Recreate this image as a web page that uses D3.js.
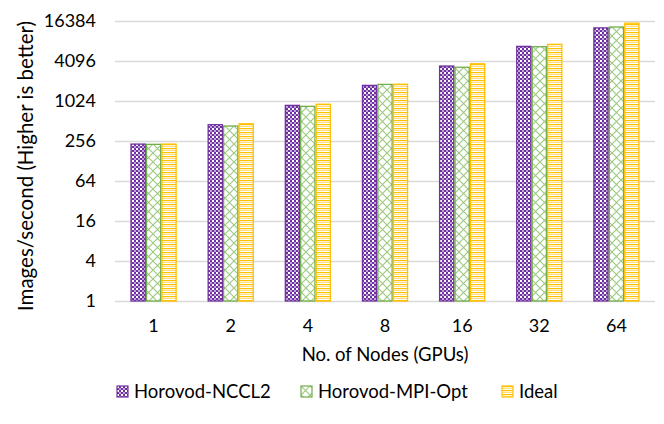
<!DOCTYPE html>
<html><head><meta charset="utf-8">
<script src="https://cdn.jsdelivr.net/npm/d3@7"></script>
<style>body{margin:0;background:#fff}svg{display:block;font-family:Lato,"Open Sans",sans-serif}</style>
</head><body><svg id="c" width="664" height="424"></svg>
<script>
const categories = ["1","2","4","8","16","32","64"];
const seriesNames = ["Horovod-NCCL2","Horovod-MPI-Opt","Ideal"];
const nccl2 = [230, 450, 880, 1760, 3440, 6800, 12900];
const mpiOpt = [228, 430, 850, 1820, 3300, 6720, 13300];
const ideal = [230, 465, 915, 1830, 3720, 7300, 15200];
const yTicks = [1,4,16,64,256,1024,4096,16384];
const seriesValues = [nccl2, mpiOpt, ideal];

const svg = d3.select("#c");
const defs = svg.append("defs");
// purple checkerboard
const p1 = defs.append("pattern").attr("id","pat0").attr("patternUnits","userSpaceOnUse").attr("width",4).attr("height",4);
p1.append("rect").attr("width",4).attr("height",4).attr("fill","#7030A0");
p1.append("rect").attr("width",2).attr("height",2).attr("fill","#ffffff");
p1.append("rect").attr("x",2).attr("y",2).attr("width",2).attr("height",2).attr("fill","#BFA6D8");
// green diagonal crosshatch
const p2 = defs.append("pattern").attr("id","pat1").attr("patternUnits","userSpaceOnUse").attr("width",9).attr("height",9);
p2.append("rect").attr("width",9).attr("height",9).attr("fill","#ffffff");
p2.append("path").attr("d","M0,0L9,9M9,0L0,9").attr("stroke","#9BC97E").attr("stroke-width",1.1);
// yellow horizontal stripes
const p3 = defs.append("pattern").attr("id","pat2").attr("patternUnits","userSpaceOnUse").attr("width",4).attr("height",4);
p3.append("rect").attr("width",4).attr("height",4).attr("fill","#ffffff");
p3.append("rect").attr("y",0).attr("width",4).attr("height",1.2).attr("fill","#FFC000");
p3.append("rect").attr("y",2).attr("width",4).attr("height",1).attr("fill","#FFDF80");

const strokes = ["#7030A0","#70AD47","#FFC000"];

const x = d3.scaleBand().domain(categories).range([115,655]).paddingInner(0.4).paddingOuter(0.2);
const xs = d3.scaleBand().domain(d3.range(3)).range([0, x.bandwidth()]);
const y = d3.scaleLog().base(2).domain([1,16384]).range([301,21]);

// gridlines
const yAxis = d3.axisLeft(y).tickValues(yTicks).tickFormat(d3.format("d")).tickSize(-(655-115)).tickPadding(19);
const gy = svg.append("g").attr("transform","translate(115,0)").call(yAxis);
gy.select(".domain").remove();
gy.selectAll(".tick line").attr("stroke","#D9D9D9").attr("stroke-width",1.3);
gy.selectAll(".tick text").attr("font-size",18).attr("fill","#000").attr("font-family","Lato");

// bars
seriesValues.forEach((vals,si)=>{
  svg.append("g").selectAll("rect").data(vals).join("rect")
    .attr("x",(d,i)=>x(categories[i])+xs(si)+0.6)
    .attr("width",xs.bandwidth()-1.2)
    .attr("y",d=>y(d))
    .attr("height",d=>y(1)-y(d))
    .attr("fill","url(#pat"+si+")")
    .attr("stroke",strokes[si]).attr("stroke-width",1.3);
});

// x axis labels
const xAxis = d3.axisBottom(x).tickSize(0).tickPadding(18);
const gx = svg.append("g").attr("transform","translate(0,301)").call(xAxis);
gx.select(".domain").remove();
gx.selectAll(".tick text").attr("font-size",18).attr("fill","#000").attr("font-family","Lato");

// axis titles
svg.append("text").attr("x",385).attr("y",361).attr("text-anchor","middle").attr("font-size",18.5).text("No. of Nodes (GPUs)");
svg.append("text").attr("transform","translate(33,166) rotate(-90)").attr("text-anchor","middle").attr("font-size",20.5).text("Images/second (Higher is better)");

// legend
const legX = [117, 301, 502];
seriesNames.forEach((n,i)=>{
  const g = svg.append("g").attr("transform",`translate(${legX[i]},386)`);
  g.append("rect").attr("width",11).attr("height",11).attr("fill","url(#pat"+i+")").attr("stroke",strokes[i]).attr("stroke-width",1.2);
  g.append("text").attr("x",17).attr("y",12).attr("font-size",18.5).text(n);
});
</script></body></html>
